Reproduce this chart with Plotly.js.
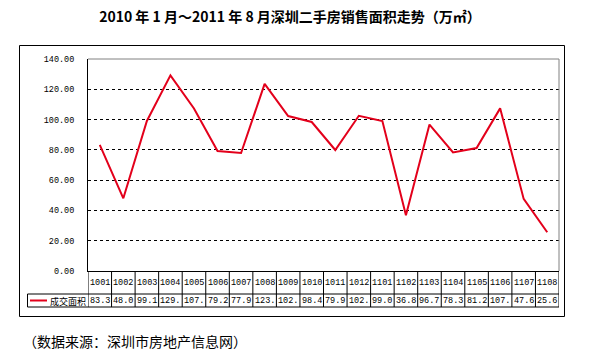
<!DOCTYPE html>
<html>
<head>
<meta charset="utf-8">
<script src="https://cdn.plot.ly/plotly-3.0.1.min.js"></script>
<style>html,body{margin:0;padding:0;background:#fff;}#chart{width:599px;height:360px;}</style>
</head>
<body>
<div id="chart"></div>
<script>
var categories = ["1001","1002","1003","1004","1005","1006","1007","1008","1009","1010","1011","1012","1101","1102","1103","1104","1105","1106","1107","1108"];
var areaValues = [83.3, 48.0, 99.1, 129.2, 107.3, 79.2, 77.9, 123.6, 102.3, 98.4, 79.9, 102.5, 99.0, 36.8, 96.7, 78.3, 81.2, 107.4, 47.6, 25.6];
var seriesName = "成交面积";
var yTickVals = [0, 20, 40, 60, 80, 100, 120, 140];
var yTickText = ["0.00","20.00","40.00","60.00","80.00","100.00","120.00","140.00"];
var titleText = "2010 年 1 月～2011 年 8 月深圳二手房销售面积走势（万㎡）";
var sourceText = "（数据来源：深圳市房地产信息网）";

var W = 599, H = 360;
var L = 88, R = 559, T = 59, B = 271;
var pw = R - L, ph = B - T;
function px(x){ return (x - L) / pw; }
function py(y){ return (B - y) / ph; }

var red = "#e3001b";
var numFont = {family: "Liberation Mono, DejaVu Sans Mono, monospace", size: 8.5, color: "#000"};
var cjkFont = "SimSun, Noto Sans CJK SC, sans-serif";

var rowTop = 271, rowMid = 294, rowBot = 307;
var shapes = [];
var annotations = [];
var n = categories.length;

// plot area gray top/right border
shapes.push({type:"line", xref:"paper", yref:"paper", x0:0, x1:1, y0:1, y1:1, line:{color:"#808080", width:1}});
shapes.push({type:"line", xref:"paper", yref:"paper", x0:1, x1:1, y0:0, y1:1, line:{color:"#808080", width:1}});
// outer chart border
shapes.push({type:"rect", xref:"paper", yref:"paper", x0:px(19.5), x1:px(564.5), y0:py(316.5), y1:py(45.5), line:{color:"#000", width:1}});
// table horizontal lines
shapes.push({type:"line", xref:"paper", yref:"paper", x0:px(27.5), x1:1, y0:py(rowMid), y1:py(rowMid), line:{color:"#000", width:1}});
shapes.push({type:"line", xref:"paper", yref:"paper", x0:px(27.5), x1:1, y0:py(rowBot), y1:py(rowBot), line:{color:"#000", width:1}});
// legend cell left
shapes.push({type:"line", xref:"paper", yref:"paper", x0:px(27.5), x1:px(27.5), y0:py(rowMid), y1:py(rowBot), line:{color:"#000", width:1}});
// column separators
for (var i = 0; i <= n; i++) {
  shapes.push({type:"line", xref:"x", yref:"paper", x0:i-0.5, x1:i-0.5, y0:py(rowTop), y1:py(rowBot), line:{color:"#000", width:1}});
}
// legend sample
shapes.push({type:"line", xref:"paper", yref:"paper", x0:px(30), x1:px(47), y0:py(300.5), y1:py(300.5), line:{color:red, width:2}});

for (var j = 0; j < n; j++) {
  annotations.push({xref:"x", yref:"paper", x:j, y:py(283), text:categories[j], showarrow:false, xanchor:"center", yanchor:"middle", font:numFont});
  annotations.push({xref:"x", yref:"paper", x:j, y:py(301), text:areaValues[j].toFixed(1).slice(0,4), showarrow:false, xanchor:"center", yanchor:"middle", font:numFont});
}
annotations.push({xref:"paper", yref:"paper", x:px(48), y:py(301), text:seriesName, showarrow:false, xanchor:"left", yanchor:"middle", font:{family:cjkFont, size:9, color:"#000"}});
annotations.push({xref:"paper", yref:"paper", x:px(21), y:py(341), text:sourceText, showarrow:false, xanchor:"left", yanchor:"middle", font:{family:cjkFont, size:14, color:"#000"}});

var trace = {
  x: categories.map(function(c, k){ return k; }),
  y: areaValues,
  type: "scatter",
  mode: "lines",
  name: seriesName,
  line: {color: red, width: 2},
  hoverinfo: "skip"
};

var layout = {
  width: W, height: H,
  margin: {l: L, r: W - R, t: T, b: H - B, pad: 0},
  paper_bgcolor: "#fff", plot_bgcolor: "#fff",
  showlegend: false,
  title: {text: "<b>" + titleText + "</b>", x: 290 / W, xanchor: "center", xref: "container", y: 1 - 17 / H, yref: "container", yanchor: "middle",
          font: {family: cjkFont, size: 14, color: "#000"}},
  xaxis: {range: [-0.5, n - 0.5], showgrid: false, zeroline: false, showticklabels: false, ticks: "",
          showline: true, linecolor: "#000", linewidth: 1, fixedrange: true},
  yaxis: {range: [0, 140], tickvals: yTickVals, ticktext: yTickText, showgrid: true, gridcolor: "#000", gridwidth: 1, griddash: "3px,3px",
          zeroline: false, showline: true, linecolor: "#000", linewidth: 1, ticks: "", ticklabelstandoff: 11,
          tickfont: numFont, fixedrange: true},
  shapes: shapes,
  annotations: annotations
};
Plotly.newPlot("chart", [trace], layout, {staticPlot: true, displayModeBar: false});
</script>
</body>
</html>
